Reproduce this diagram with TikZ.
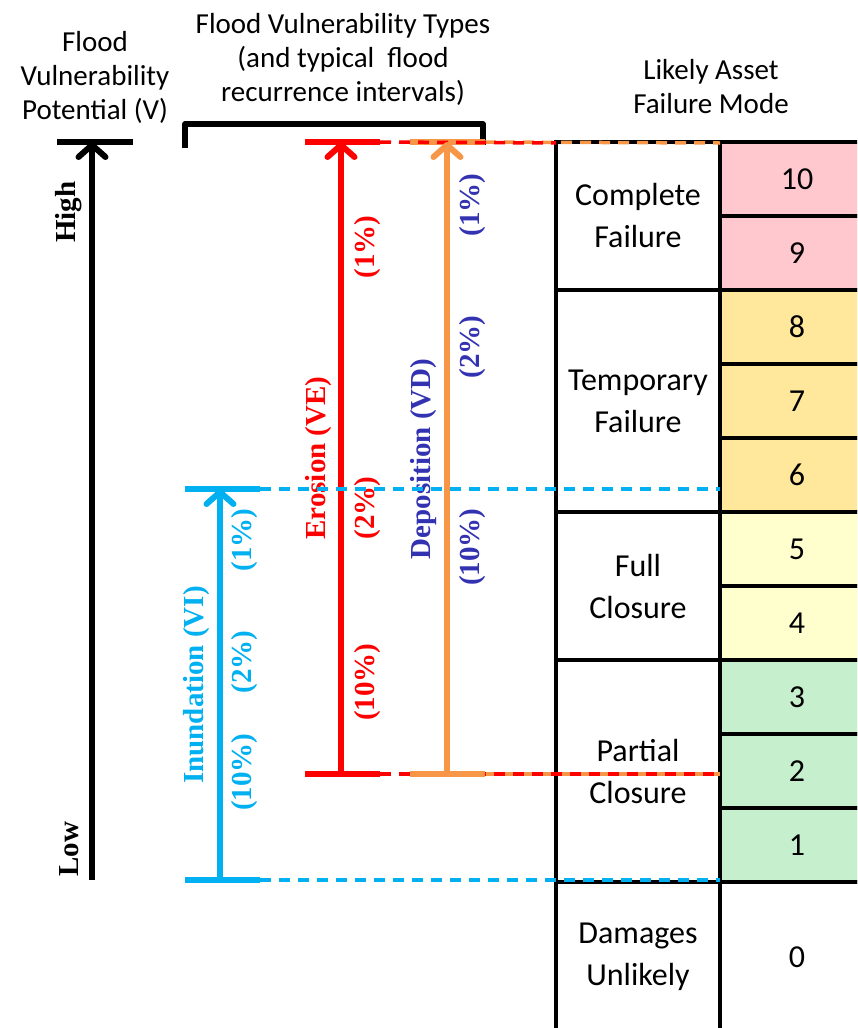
\documentclass[tikz,border=0pt]{standalone}
\usepackage{fontspec}
\setmainfont{Liberation Serif}
\newfontfamily\carl{Carlito}
\usetikzlibrary{arrows.meta}

\definecolor{vred}{RGB}{255,0,0}
\definecolor{vorange}{RGB}{247,150,70}
\definecolor{vcyan}{RGB}{0,176,240}
\definecolor{vblue}{RGB}{51,51,178}
\definecolor{cpink}{RGB}{255,199,206}
\definecolor{cgold}{RGB}{255,231,155}
\definecolor{cpale}{RGB}{255,254,205}
\definecolor{cgreen}{RGB}{198,239,206}

\tikzset{
  head/.style={font=\carl\fontsize{29}{34}\selectfont, align=center, inner sep=0pt},
  grp/.style={draw=black, line width=3.5pt, outer sep=0pt, inner sep=0pt,
    minimum width=164pt, align=center, font=\carl\fontsize{32}{42}\selectfont},
  numcell/.style={draw=black, line width=3.5pt, outer sep=0pt, inner sep=0pt,
    minimum width=154pt, minimum height=74pt, font=\carl\fontsize{32}{38}\selectfont},
  vlabel/.style={rotate=90, inner sep=0pt, font=\bfseries\fontsize{29}{30}\selectfont},
  barline/.style={line width=5.5pt},
  uparrow/.style={line width=5.5pt,
    -{Straight Barb[length=12pt,width=27pt,line width=6pt,round]}},
  guide/.style={line width=3.5pt, dash pattern=on 11pt off 8pt},
}

\begin{document}
\begin{tikzpicture}[x=1pt,y=-1pt]
\useasboundingbox (0,0) rectangle (857,1028);
\clip (0,0) rectangle (857,1028);

% ---- headings ----
\node[head] (vtitle) at (95,77) {Flood\\Vulnerability\\Potential (V)};
\node[head] (ttitle) at (343,59) {Flood Vulnerability Types\\(and typical\ \ flood\\recurrence intervals)};
\node[head] (ftitle) at (711,87) {Likely Asset\\Failure Mode};

% ---- failure mode table ----
\node[grp, minimum height=148pt, anchor=north west] (gcf) at (556,142) {Complete\\Failure};
\node[grp, minimum height=222pt, anchor=north west] (gtf) at (556,290) {Temporary\\Failure};
\node[grp, minimum height=148pt, anchor=north west] (gfc) at (556,512) {Full\\Closure};
\node[grp, minimum height=222pt, anchor=north west] (gpc) at (556,660) {Partial\\Closure};
\node[grp, minimum height=150pt, anchor=north west] (gdu) at (556,882) {Damages\\Unlikely};

\foreach \n/\c [count=\i from 0] in
  {10/cpink,9/cpink,8/cgold,7/cgold,6/cgold,5/cpale,4/cpale,3/cgreen,2/cgreen,1/cgreen}
  \node[numcell, fill=\c, anchor=north west] (n\n) at (720,{142+74*\i}) {\n};
\node[numcell, minimum height=150pt, anchor=north west] (n0) at (720,882) {0};

% ---- vulnerability potential axis ----
\coordinate (axl) at (57,142);  \coordinate (axr) at (133,142);
\coordinate (axtop) at (92,142); \coordinate (axbot) at (92,880);
\draw[barline] (axl) -- (axr);
\draw[uparrow] (axbot) -- (axtop);
\node[vlabel] (high) at (69,212) {High};
\node[vlabel] (low) at (69,849) {Low};

% ---- bracket over the vulnerability types ----
\coordinate (brl) at (185,148); \coordinate (brr) at (483,145);
\draw[barline, line join=round] (brl) |- (483,124) -- (brr);

% ---- erosion (VE) ----
\coordinate (etl) at (305,142); \coordinate (etr) at (380,142);
\coordinate (ebl) at (305,774); \coordinate (ebr) at (380,774);
\coordinate (etop) at (341,142); \coordinate (ebot) at (341,774);
% ---- deposition (VD) ----
\coordinate (dtl) at (410,142); \coordinate (dtr) at (485,142);
\coordinate (dbl) at (410,774); \coordinate (dbr) at (485,774);
\coordinate (dtop) at (447,142); \coordinate (dbot) at (447,774);
% ---- inundation (VI) ----
\coordinate (itl) at (185,489); \coordinate (itr) at (260,489);
\coordinate (ibl) at (185,880); \coordinate (ibr) at (260,880);
\coordinate (itop) at (220,489); \coordinate (ibot) at (220,880);

% guide end points at the table
\coordinate (gEt) at (556,143); \coordinate (gDt) at (720,143);
\coordinate (gEb) at (720,774);
\coordinate (gIt) at (720,489);  \coordinate (gIb) at (720,880);

\draw[barline, vorange] (dtl) -- (dtr);
\draw[guide, vorange] (dtr) -- (gDt);
\draw[guide, vred] (etr) -- (gEt);
\draw[barline, vred] (etl) -- (etr);
\draw[uparrow, vred] (ebot) -- (etop);
\draw[barline, vred] (ebl) -- (ebr);
\draw[guide, vorange] (dbr) -- (gEb);
\draw[guide, vred] (ebr) -- (gEb);
\draw[barline, vorange] (dbl) -- (dbr);
\draw[uparrow, vorange] (dbot) -- (dtop);

\draw[barline, vcyan] (itl) -- (itr);
\draw[barline, vcyan] (ibl) -- (ibr);
\draw[uparrow, vcyan] (ibot) -- (itop);

% ---- labels ----
\node[vlabel, text=vred] (ero) at (319,458) {Erosion (VE)};
\node[vlabel, text=vred] (e1) at (368,247) {(1\%)};
\node[vlabel, text=vred] (e2) at (368,508) {(2\%)};
\node[vlabel, text=vred] (e10) at (368,682) {(10\%)};

\node[vlabel, text=vblue] (dep) at (424,459) {Deposition (VD)};
\node[vlabel, text=vblue] (d1) at (473,205) {(1\%)};
\node[vlabel, text=vblue] (d2) at (473,347) {(2\%)};
\node[vlabel, text=vblue] (d10) at (473,547) {(10\%)};

\node[vlabel, text=vcyan] (inu) at (197,685) {Inundation (VI)};
\node[vlabel, text=vcyan] (i1) at (245,540) {(1\%)};
\node[vlabel, text=vcyan] (i2) at (245,662) {(2\%)};
\node[vlabel, text=vcyan] (i10) at (245,772) {(10\%)};

% inundation guides run over the labels
\draw[guide, vcyan] (itr) -- (gIt);
\draw[guide, vcyan] (ibr) -- (gIb);
\end{tikzpicture}
\end{document}
